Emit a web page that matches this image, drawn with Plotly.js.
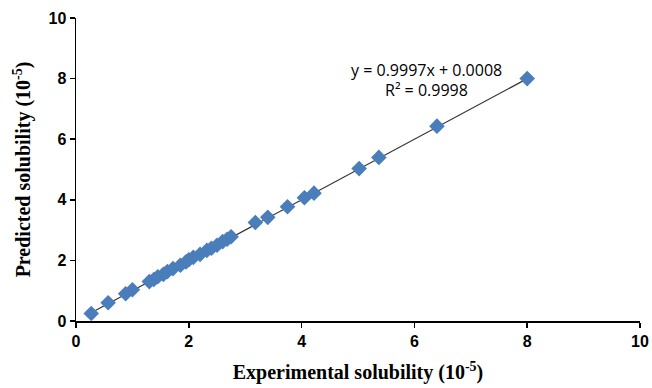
<!DOCTYPE html>
<html>
<head>
<meta charset="utf-8">
<script src="https://cdn.plot.ly/plotly-3.0.1.min.js"></script>
<style>html,body{margin:0;padding:0;background:#fff;}#chart{width:652px;height:388px;}</style>
</head>
<body>
<div id="chart"></div>
<script>
const experimental = [0.27,0.57,0.88,1.0,1.3,1.38,1.45,1.55,1.62,1.72,1.85,1.95,2.0,2.08,2.2,2.32,2.4,2.5,2.6,2.68,2.75,3.18,3.4,3.75,4.05,4.22,5.02,5.37,6.4,8.0];
const predicted    = [0.25,0.6,0.9,1.03,1.3,1.37,1.46,1.54,1.63,1.73,1.84,1.95,2.02,2.1,2.2,2.33,2.4,2.5,2.62,2.7,2.78,3.25,3.42,3.77,4.07,4.22,5.03,5.4,6.43,8.0];
const slope = 0.9997;
const intercept = 0.0008;
const rSquared = 0.9998;
const tickVals = [0,2,4,6,8,10];

const xMin = Math.min(...experimental), xMax = Math.max(...experimental);
const trendX = [xMin, xMax];
const trendY = trendX.map(v => slope*v + intercept);

const data = [
  {x: trendX, y: trendY, mode: 'lines', type: 'scatter',
   line: {color: '#333', width: 1.2}, hoverinfo: 'skip', showlegend: false},
  {x: experimental, y: predicted, mode: 'markers', type: 'scatter',
   marker: {symbol: 'diamond', size: 12, color: '#4a7ebb', line: {width: 0}}, showlegend: false}
];

const tickFont = {family: 'Liberation Sans, Arial, sans-serif', size: 16, color: '#000', weight: 'bold'};
const titleFont = {family: 'Liberation Serif, Times New Roman, serif', size: 20, color: '#000', weight: 'bold'};

const layout = {
  width: 652, height: 388,
  margin: {l: 76, r: 12, t: 18, b: 67},
  paper_bgcolor: '#fff', plot_bgcolor: '#fff',
  showlegend: false,
  xaxis: {
    range: [0, 10], tickvals: tickVals, ticktext: tickVals.map(String),
    showgrid: false, zeroline: false, showline: true, linecolor: '#000', linewidth: 1.5,
    ticks: 'outside', ticklen: 5, tickwidth: 1.5, tickcolor: '#000',
    tickfont: tickFont,
    title: {text: 'Experimental solubility (10<sup>-5</sup>)', font: titleFont, standoff: 16}
  },
  yaxis: {
    range: [0, 10], tickvals: tickVals, ticktext: tickVals.map(String),
    showgrid: false, zeroline: false, showline: true, linecolor: '#000', linewidth: 1.5,
    ticks: 'outside', ticklen: 5, tickwidth: 1.5, tickcolor: '#000',
    tickfont: tickFont,
    title: {text: 'Predicted solubility (10<sup>-5</sup>)', font: titleFont, standoff: 12}
  },
  annotations: [
    {x: 6.22, y: 8.3, xref: 'x', yref: 'y', showarrow: false,
     text: 'y = ' + slope.toFixed(4) + 'x + ' + intercept.toFixed(4),
     font: {family: 'Open Sans, Liberation Sans, sans-serif', size: 16, color: '#000'}},
    {x: 6.22, y: 7.62, xref: 'x', yref: 'y', showarrow: false,
     text: 'R² = ' + rSquared.toFixed(4),
     font: {family: 'Open Sans, Liberation Sans, sans-serif', size: 16, color: '#000'}}
  ]
};

Plotly.newPlot('chart', data, layout, {displayModeBar: false, staticPlot: true});
</script>
</body>
</html>
